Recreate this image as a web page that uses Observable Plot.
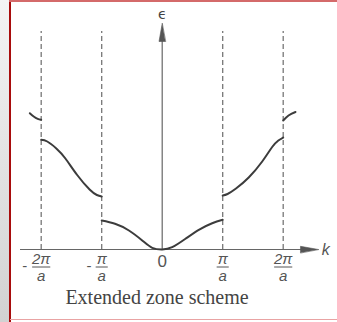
<!DOCTYPE html>
<html>
<head>
<meta charset="utf-8">
<script src="https://cdn.jsdelivr.net/npm/d3@7"></script>
<script src="https://cdn.jsdelivr.net/npm/@observablehq/plot@0.6"></script>
<style>
  body { margin: 0; background: white; }
  #wrap { position: relative; width: 337px; height: 322px; overflow: hidden; background: white; }
  #strip { position: absolute; left: 0; top: 0; width: 9px; height: 322px; background: linear-gradient(to bottom, #f4f4f4, #d2d2d2); }
  #redv { position: absolute; left: 9px; top: 0; width: 1.5px; height: 322px; background: #a80c0c; }
  #redt { position: absolute; left: 9px; top: 0; right: 0; height: 2px; background: #d46a6a; }
  #redb { position: absolute; left: 10px; top: 318.5px; right: 0; height: 1.5px; background: #e9a3a3; }
  #chart { position: absolute; left: 0; top: 0; }
</style>
</head>
<body>
<div id="wrap"><div id="strip"></div><div id="redv"></div><div id="redt"></div><div id="redb"></div><div id="chart"></div></div>
<script>
// Tick labels (k in units of pi/a)
const tickK = [-2, -1, 0, 1, 2];
const tickNum = ["2π", "π", "0", "π", "2π"];
const tickDen = ["a", "a", "", "a", "a"];
const tickSign = ["-", "-", "", "", ""];
// Zone boundaries
const zoneK = [-2, -1, 1, 2];
// Axis extents
const axisKMin = -2.342, axisKMax = 2.583, axisEMax = 2.26, zoneEMax = 2.18;
// Bands (k, energy)
const band1K = [-1.0, -0.78, -0.55, -0.33, -0.165, 0, 0.165, 0.385, 0.605, 0.826, 1.0];
const band1E = [0.29, 0.257, 0.19, 0.09, 0.017, 0, 0.023, 0.107, 0.197, 0.263, 0.297];
const band2LK = [-2.0, -1.9, -1.75, -1.6, -1.405, -1.2, -1.08, -1.0];
const band2LE = [1.097, 1.08, 1.01, 0.91, 0.745, 0.6, 0.545, 0.53];
const band2RK = [1.0, 1.08, 1.22, 1.43, 1.653, 1.818, 1.92, 2.0];
const band2RE = [0.54, 0.555, 0.61, 0.72, 0.88, 1.025, 1.09, 1.12];
const band3LK = [-2.188, -2.124, -2.058, -2.0];
const band3LE = [1.363, 1.33, 1.307, 1.297];
const band3RK = [2.0, 2.088, 2.203];
const band3RE = [1.29, 1.34, 1.375];

const bands = [];
[[band1K, band1E, "b1"], [band2LK, band2LE, "b2l"], [band2RK, band2RE, "b2r"], [band3LK, band3LE, "b3l"], [band3RK, band3RE, "b3r"]]
  .forEach(([ks, es, id]) => ks.forEach((k, i) => bands.push({band: id, k, e: es[i]})));

const ticks = tickK.map((k, i) => ({k, num: tickNum[i], den: tickDen[i], sign: tickSign[i]}));
const fracs = ticks.filter(d => d.den);

const triangle = {
  draw(context, l, r) {
    context.moveTo(0, -l);
    context.lineTo(-r, 0);
    context.lineTo(r, 0);
    context.closePath();
  }
};

const chart = Plot.plot({
  width: 337,
  height: 322,
  margin: 0,
  style: {background: "transparent", fontFamily: "Liberation Sans"},
  x: {domain: [-2, 2], range: [40.7, 282.7], axis: null},
  y: {domain: [0, 2.26], range: [249, 23], axis: null},
  marks: [
    Plot.ruleX(zoneK, {x: d => d, y1: 0, y2: zoneEMax, stroke: "#777", strokeWidth: 1.3, strokeDasharray: "5,3"}),
    Plot.ruleY([0], {x1: axisKMin, x2: axisKMax - 0.2, stroke: "#666", strokeWidth: 1.2}),
    Plot.ruleX([0], {y1: 0, y2: axisEMax - 0.12, stroke: "#666", strokeWidth: 1.2}),
    Plot.vector([{x: axisKMax, y: 0, rot: 90}, {x: 0, y: axisEMax, rot: 0}], {
      x: "x", y: "y", rotate: "rot", length: 18, r: 3.2, anchor: "end", shape: triangle,
      fill: "#555", stroke: "#555", strokeWidth: 0.6
    }),
    Plot.line(bands, {x: "k", y: "e", z: "band", curve: "natural", stroke: "#3c3c3c", strokeWidth: 2}),
    Plot.text(fracs, {x: "k", y: 0, text: "num", dy: 10, fontSize: 15, fontStyle: "italic", fill: "#555"}),
    Plot.text(ticks.filter(d => !d.den), {x: "k", y: 0, text: "num", dy: 12, fontSize: 17, fill: "#555"}),
    Plot.link(fracs, {x1: d => d.k - (d.num.length > 1 ? 0.15 : 0.1), x2: d => d.k + (d.num.length > 1 ? 0.15 : 0.1), y1: 0, y2: 0, dy: 17.5, stroke: "#555", strokeWidth: 1}),
    Plot.text(fracs, {x: "k", y: 0, text: "den", dy: 27, fontSize: 15, fontStyle: "italic", fill: "#555"}),
    Plot.text(ticks.filter(d => d.sign), {x: d => d.k - (d.num.length > 1 ? 0.27 : 0.21), y: 0, text: "sign", dy: 16.5, fontSize: 15, fill: "#555"}),
    Plot.text(["ϵ"], {x: 0, y: 2.35, text: d => d, fontSize: 14, fill: "#444", fontFamily: "DejaVu Sans"}),
    Plot.text(["k"], {x: 2.705, y: 0, text: d => d, fontSize: 16, fontStyle: "italic", fill: "#555"}),
    Plot.text(["Extended zone scheme"], {frameAnchor: "bottom", text: d => d, dx: -12, dy: -19, fontSize: 20, fontFamily: "Liberation Serif", fill: "#444"})
  ]
});
document.getElementById("chart").appendChild(chart);
</script>
</body>
</html>
